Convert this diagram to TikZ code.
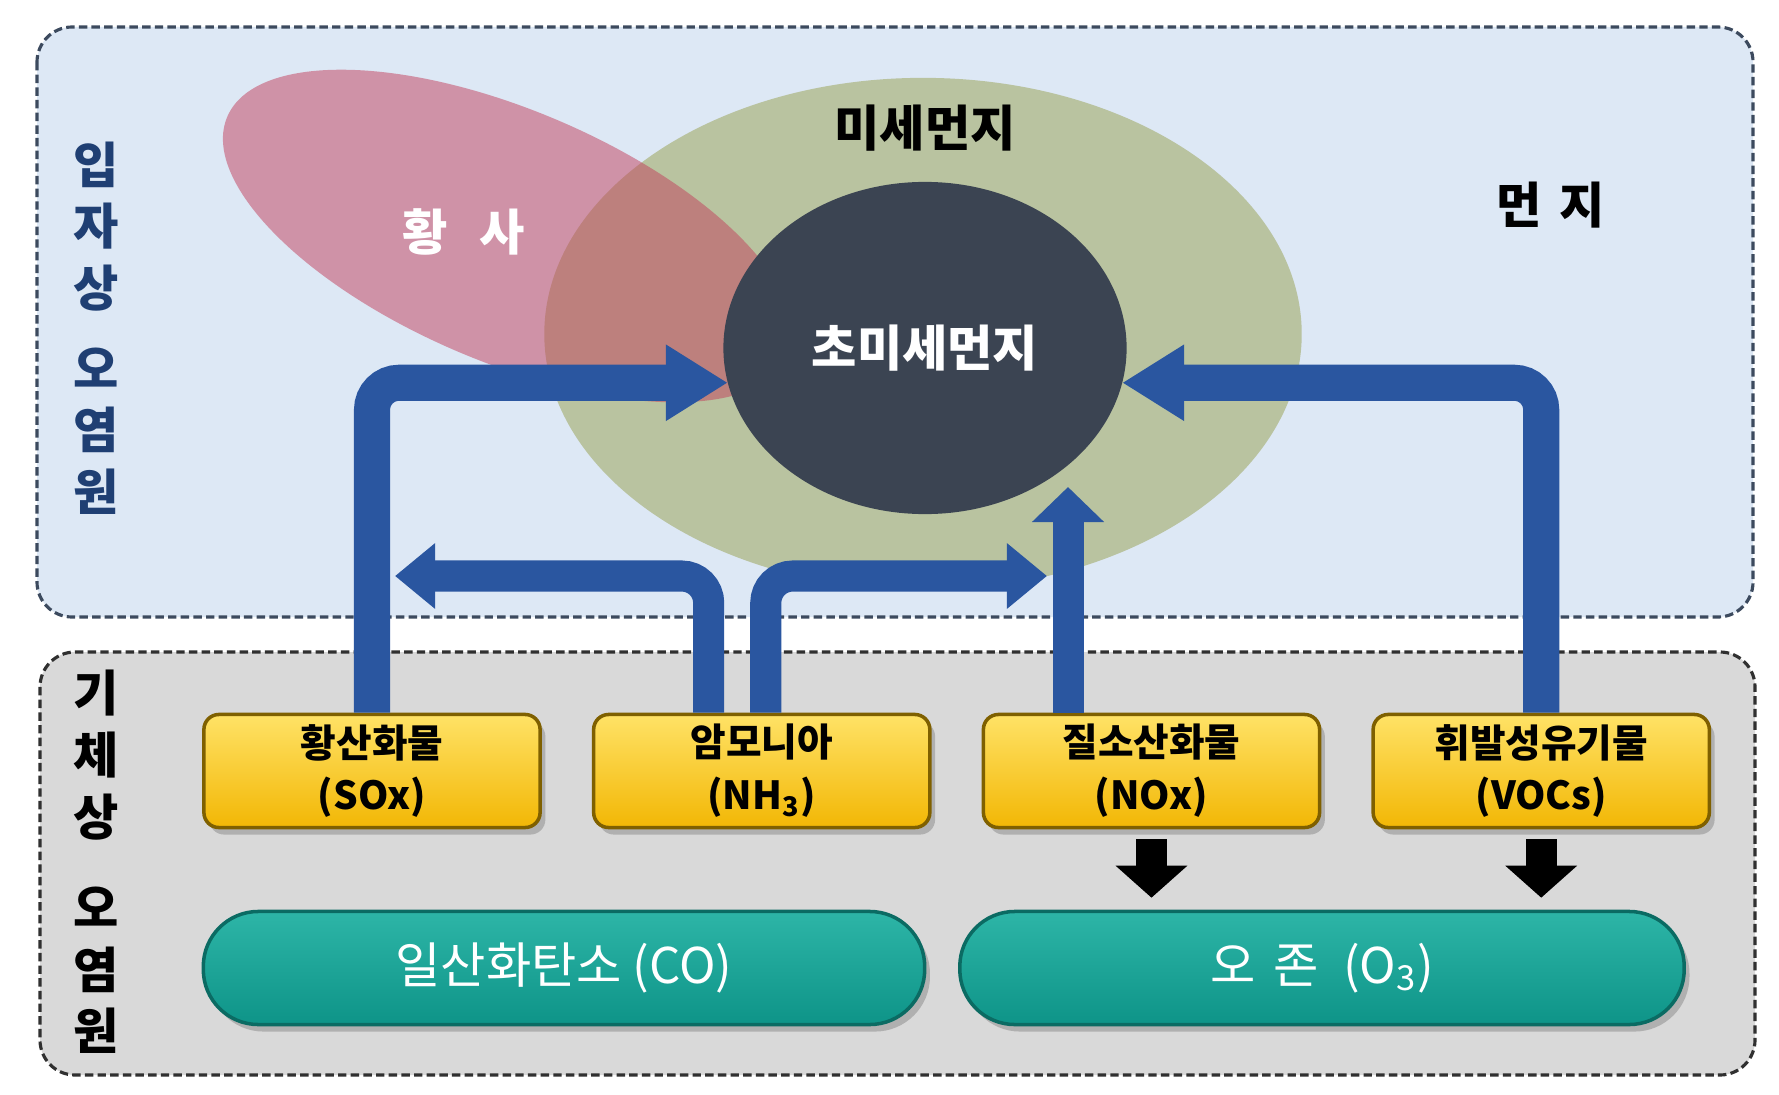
\documentclass[tikz,border=0pt]{standalone}
\usepackage{fontspec}
\setmainfont{Noto Sans CJK KR}
\usepackage{tikz}
\usetikzlibrary{arrows.meta,positioning,shadows,shapes.geometric}
\definecolor{PanelBlue}{HTML}{DDE8F5}
\definecolor{PanelBlueEdge}{HTML}{3C4A5E}
\definecolor{PanelGray}{HTML}{D9D9D9}
\definecolor{PanelGrayEdge}{HTML}{303030}
\definecolor{LabelBlue}{HTML}{1F3F73}
\definecolor{DustPink}{RGB}{194,62,91}
\definecolor{PmGreen}{HTML}{B9C3A0}
\definecolor{UfdGray}{HTML}{3B4452}
\definecolor{FlowBlue}{HTML}{2A56A0}
\definecolor{GoldTop}{HTML}{FFE266}
\definecolor{GoldBottom}{HTML}{F2B705}
\definecolor{GoldEdge}{HTML}{7F6000}
\definecolor{TealTop}{HTML}{2DB5A7}
\definecolor{TealBottom}{HTML}{0E9488}
\definecolor{TealEdge}{HTML}{0B6B63}

\begin{document}
\begin{tikzpicture}[
  x=0.01cm, y=-0.01cm,
  node distance=5mm,
  panel/.style={line width=0.9pt, dash pattern=on 2.4pt off 1.2pt, rounded corners=0.35cm},
  side/.style={align=center, font=\fontsize{14}{17.5}\selectfont\bfseries},
  title/.style={font=\fontsize{14}{17}\selectfont\bfseries},
  box/.style={draw=GoldEdge, line width=1pt, rounded corners=0.15cm, top color=GoldTop, bottom color=GoldBottom,
    minimum width=3.36cm, minimum height=1.13cm, inner sep=0pt, align=center,
    font=\fontsize{11}{15}\selectfont\bfseries,
    drop shadow={shadow xshift=1.5pt, shadow yshift=-2pt, opacity=0.45}},
  pill/.style={draw=TealEdge, line width=1pt, rounded corners=0.55cm, top color=TealTop, bottom color=TealBottom,
    minimum height=1.13cm, inner sep=0pt, text=white, font=\fontsize{14}{17}\selectfont,
    drop shadow={shadow xshift=1.5pt, shadow yshift=-2pt, opacity=0.45}},
  flow/.style={draw=FlowBlue, line width=0.36cm, rounded corners=0.27cm, -{Triangle[length=0.62cm,width=0.72cm]}},
  flowthin/.style={flow, line width=0.31cm, -{Triangle[length=0.4cm,width=0.63cm]}},
  flowup/.style={flow, line width=0.31cm, -{Triangle[length=0.35cm,width=0.7cm]}},
  down/.style={draw=black, line width=0.31cm, -{Triangle[length=0.32cm,width=0.7cm]}, shorten <=0.1cm, shorten >=0.12cm}
]
\useasboundingbox (0,0) rectangle (1779,1094);
\fill[white] (0,0) rectangle (1779,1094);

\filldraw[panel, fill=PanelBlue, draw=PanelBlueEdge] (37,27) rectangle (1753,617);
\filldraw[panel, fill=PanelGray, draw=PanelGrayEdge] (40,652) rectangle (1755,1075);

\node[side, text=LabelBlue] (solid) at (96,328) {입\\자\\상\\[5.5pt]오\\염\\원};
\node[side] (gas) at (96,862) {기\\체\\상\\[8.5pt]오\\염\\원};

\node[ellipse, fill=PmGreen, minimum width=7.57cm, minimum height=5.12cm, inner sep=0pt, outer sep=0pt] (pm) at (923,334) {};
\fill[DustPink, fill opacity=0.5, rotate around={-23:(508,236)}] (508,236) ellipse [x radius=305, y radius=126];
\node[ellipse, fill=UfdGray, minimum width=4.03cm, minimum height=3.32cm, inner sep=0pt, outer sep=0pt,
  text=white, font=\fontsize{14}{17}\selectfont\bfseries] (ufd) at (925,348) {초미세먼지};

\node[title] (pmtext) at (925,128) {미세먼지};
\node[title, text=white] (dusttext) at (464,232) {황\hspace{9pt}사};
\node[title] (coarse) at (1551,205) {먼\hspace{5pt}지};

\node[box] (sox) at (372,771) {황산화물\\(SOx)};
\node[box, right=of sox] (nh3) {암모니아\\(NH\textsubscript{3})};
\node[box, right=of nh3] (nox) {질소산화물\\(NOx)};
\node[box, right=of nox] (vocs) {휘발성유기물\\(VOCs)};

\node[pill, minimum width=7.21cm] (co) at (564,968) {일산화탄소 (CO)};
\node[pill, minimum width=7.24cm] (o3) at (1322,968) {오\hspace{5pt}존\hspace{7pt}(O\textsubscript{3})};

\coordinate (tipB) at (395,576);
\coordinate (tipC) at (1047,576);
\coordinate (tipD) at (1068,487);

\draw[flow] (sox.north) |- (ufd.190);
\draw[flow] (vocs.north) |- (ufd.-10);
\draw[flowthin] ([xshift=-0.53cm]nh3.north) |- (tipB);
\draw[flowthin] ([xshift=0.04cm]nh3.north) |- (tipC);
\draw[flowup] (tipD |- nox.north) -- (tipD);

\draw[down] (nox.south) -- (nox.south |- o3.north);
\draw[down] (vocs.south) -- (vocs.south |- o3.north);
\end{tikzpicture}
\end{document}
